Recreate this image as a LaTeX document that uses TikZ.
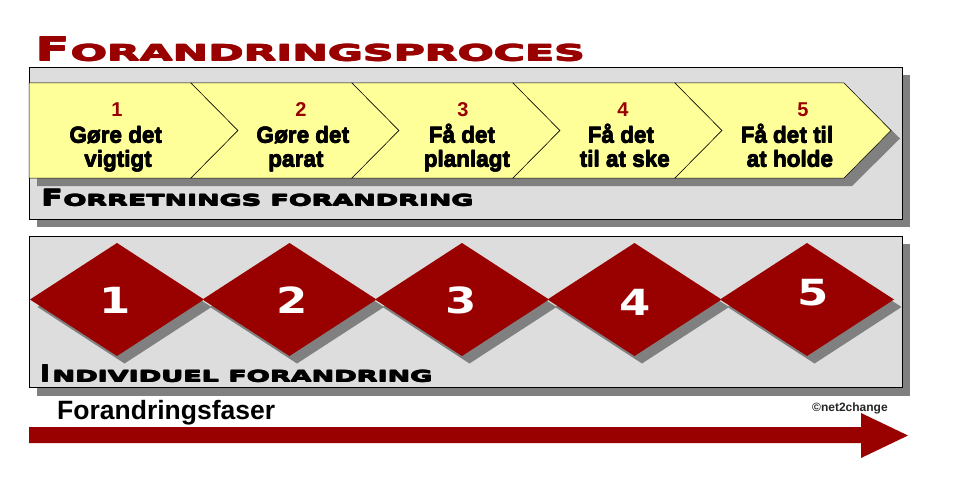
\documentclass[tikz,border=0pt]{standalone}
\usepackage{fontspec}
\usepackage{graphicx}
\setmainfont{Liberation Sans}
\newfontfamily\wideface{DejaVu Sans Bold}
\definecolor{darkred}{HTML}{990000}
\definecolor{chevyellow}{HTML}{FFFF99}
\definecolor{boxgray}{HTML}{DDDDDD}
\definecolor{shadowgray}{HTML}{808080}
% poor man's heavy weight: overlay shifted copies
\newcommand{\heavy}[2]{\makebox[0pt][l]{#2}\makebox[0pt][l]{\hspace{#1}#2}\makebox[0pt][l]{\raisebox{#1}{#2}}\hspace{#1}\raisebox{#1}{#2}}
% #1 big letter, #2 its width, #3 its height, #4 gap, #5 rest, #6 rest width, #7 rest height
\newcommand{\capsline}[7]{{\wideface\fontsize{30}{30}\selectfont\resizebox{#2}{#3}{#1}\hspace{#4}\resizebox{#6}{#7}{#5}}}
\tikzset{
  panel/.style={draw=black, line width=0.9pt, fill=boxgray},
  shade/.style={fill=shadowgray},
  chev/.style={draw=black, line width=0.5pt, fill=chevyellow},
  dia/.style={fill=darkred},
  chevnum/.style={anchor=base, inner sep=0pt, text=darkred, font=\fontsize{20}{20}\selectfont\bfseries},
  chevtxt/.style={anchor=base, inner sep=0pt, text=black, font=\fontsize{22.5}{22.5}\selectfont\bfseries},
  dianum/.style={anchor=center, inner sep=0pt, text=white, font=\wideface\fontsize{36}{36}\selectfont},
  label/.style={anchor=base west, inner sep=0pt},
}
\begin{document}
\begin{tikzpicture}[x=1pt,y=-1pt]
\useasboundingbox[fill=white] (0,0) rectangle (958,484);
% title
\node[label, text=darkred] (title) at (35,62) {\heavy{1.3pt}{\capsline{F}{34pt}{24pt}{1pt}{ORANDRINGSPROCES}{514pt}{16.5pt}}};
% top panel
\fill[shade] (37,75) rectangle (910,227);
\draw[panel] (29,67) rectangle (902,219);
% chevron shadow
\fill[shade] (37,91) -- (852,91) -- (900,138.5) -- (852,186) -- (37,186) -- cycle;
% chevrons
\path[chev] (29,83) -- (191,83) -- (238,130.5) -- (191,178) -- (29,178) -- cycle;
\foreach \l/\r in {191/352,352/513,513/675,675/844}{
  \path[chev] (\l,83) -- (\r,83) -- ({\r+47},130.5) -- (\r,178) -- (\l,178) -- ({\l+47},130.5) -- cycle;
}
% chevron texts
\node[chevnum] (n1) at (117,117) {1};
\node[chevtxt] (a1) at (116,143) {\heavy{0.5pt}{Gøre det}};
\node[chevtxt] (b1) at (118,167) {\heavy{0.5pt}{vigtigt}};
\node[chevnum] (n2) at (301,117) {2};
\node[chevtxt] (a2) at (303,143) {\heavy{0.5pt}{Gøre det}};
\node[chevtxt] (b2) at (296,167) {\heavy{0.5pt}{parat}};
\node[chevnum] (n3) at (463,117) {3};
\node[chevtxt] (a3) at (462,143) {\heavy{0.5pt}{Få det}};
\node[chevtxt] (b3) at (467,167) {\heavy{0.5pt}{planlagt}};
\node[chevnum] (n4) at (623,117) {4};
\node[chevtxt] (a4) at (621,143) {\heavy{0.5pt}{Få det}};
\node[chevtxt] (b4) at (625,167) {\heavy{0.5pt}{til at ske}};
\node[chevnum] (n5) at (803,117) {5};
\node[chevtxt] (a5) at (787,143) {\heavy{0.5pt}{Få det til}};
\node[chevtxt] (b5) at (790,167) {\heavy{0.5pt}{at holde}};
% top label
\node[label, text=black] (lbl1) at (41,206) {\heavy{0.9pt}{\capsline{F}{21pt}{16.5pt}{1pt}{ORRETNINGS FORANDRING}{410pt}{11.5pt}}};
% bottom panel
\fill[shade] (37,244) rectangle (910,396);
\draw[panel] (29,236) rectangle (902,387);
% diamond shadows
\foreach \c in {117,289.5,462,634.5,807}{
  \fill[shade] ({\c+7.5},250.5) -- ({\c+94.5},307) -- ({\c+7.5},363.5) -- ({\c-79.5},307) -- cycle;
}
% diamonds
\foreach \c in {117,289.5,462,634.5,807}{
  \fill[dia] (\c,243) -- ({\c+87},299.5) -- (\c,356) -- ({\c-87},299.5) -- cycle;
}
\node[dianum] (d1) at (115,300.5) {\scalebox{1.25}[1]{1}};
\node[dianum] (d2) at (292,300.5) {\scalebox{1.25}[1]{2}};
\node[dianum] (d3) at (461,300.5) {\scalebox{1.25}[1]{3}};
\node[dianum] (d4) at (635,302) {\scalebox{1.25}[1]{4}};
\node[dianum] (d5) at (813,292.5) {\scalebox{1.25}[1]{5}};
% bottom label
\node[label, text=black] (lbl2) at (40,382) {\heavy{0.9pt}{\capsline{I}{9pt}{17pt}{3pt}{NDIVIDUEL FORANDRING}{380pt}{11.5pt}}};
% phases arrow
\node[label, text=black, font=\fontsize{26.5}{26.5}\selectfont\bfseries] (phases) at (57,419) {Forandringsfaser};
\node[label, text=black!85, font=\fontsize{12}{12}\selectfont\bfseries] (copy) at (812,411) {©net2change};
\fill[darkred] (29,427) -- (861,427) -- (861,413) -- (908,435.5) -- (861,458) -- (861,443) -- (29,443) -- cycle;
\end{tikzpicture}
\end{document}
